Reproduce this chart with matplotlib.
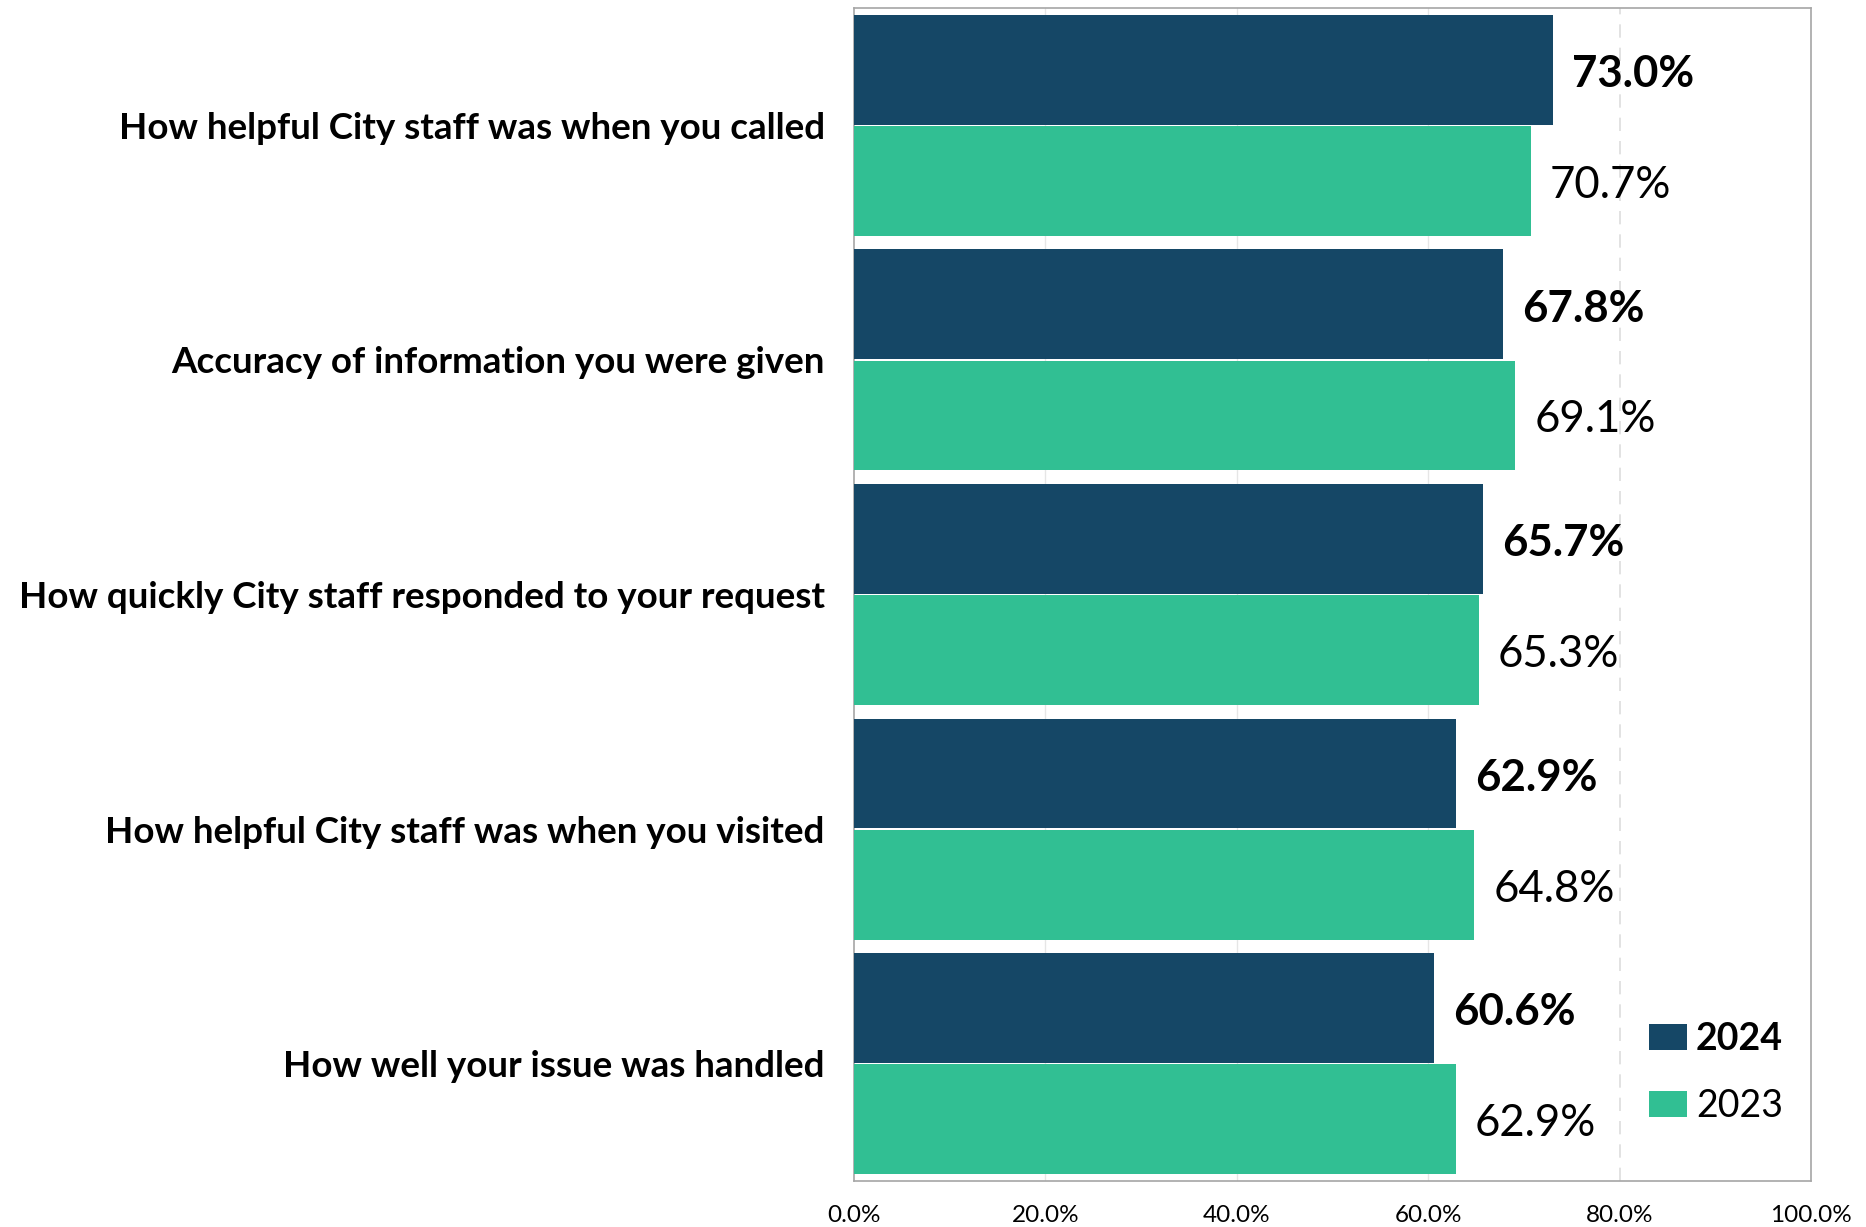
import matplotlib
matplotlib.use("Agg")
import matplotlib.pyplot as plt
import numpy as np
from matplotlib.patches import Patch

categories = [
    "How helpful City staff was when you called",
    "Accuracy of information you were given",
    "How quickly City staff responded to your request",
    "How helpful City staff was when you visited",
    "How well your issue was handled",
]
v2024 = [73.0, 67.8, 65.7, 62.9, 60.6]
v2023 = [70.7, 69.1, 65.3, 64.8, 62.9]
xticks = [0, 20, 40, 60, 80, 100]

c2024 = "#154766"
c2023 = "#31BF93"
plt.rcParams['font.family'] = ['Lato', 'DejaVu Sans']

fig = plt.figure(figsize=(18.66, 12.27), dpi=100)
ax = fig.add_axes([854/1866, 1 - 1181/1227, (1811-854)/1866, (1181-8)/1227])

n = len(categories)
y = np.arange(n)
h = 0.468
ax.barh(y - h/2 - 0.003, v2024, height=h, color=c2024, zorder=3)
ax.barh(y + h/2 + 0.003, v2023, height=h, color=c2023, zorder=3)

for i in range(n):
    ax.text(v2024[i] + 2.0, y[i] - h/2 + 0.015, f"{v2024[i]:.1f}%", va="center", ha="left",
            fontsize=31.5, fontweight="bold", color="black")
    ax.text(v2023[i] + 2.0, y[i] + h/2 + 0.022, f"{v2023[i]:.1f}%", va="center", ha="left",
            fontsize=31.5, color="black")

ax.set_ylim(n - 0.5, -0.5)
ax.set_xlim(0, 100)
ax.set_yticks(y)
ax.set_yticklabels(categories, fontsize=26.5, fontweight="bold")
ax.set_xticks(xticks)
ax.set_xticklabels([f"{t:.1f}%" for t in xticks], fontsize=17.5)
ax.tick_params(axis="both", length=0)
ax.tick_params(axis="y", pad=21)
ax.tick_params(axis="x", pad=17)

for t in [20, 40, 60]:
    ax.axvline(t, color="#e6e6e6", lw=1, zorder=1)
ax.axvline(80, color="#dddddd", lw=1.2, ls=(0, (8, 6)), zorder=1)

for s in ax.spines.values():
    s.set_color("#a6a6a6")
    s.set_linewidth(1.2)

handles = [Patch(facecolor=c2024), Patch(facecolor=c2023)]
leg = ax.legend(handles, ["2024", "2023"], loc="lower right", bbox_to_anchor=(1.006, 0.02),
                frameon=False, fontsize=27, handlelength=1.0, handleheight=0.7,
                labelspacing=0.85, handletextpad=0.25)
leg.get_texts()[0].set_fontweight("bold")

fig.savefig("out.png", dpi=100)
